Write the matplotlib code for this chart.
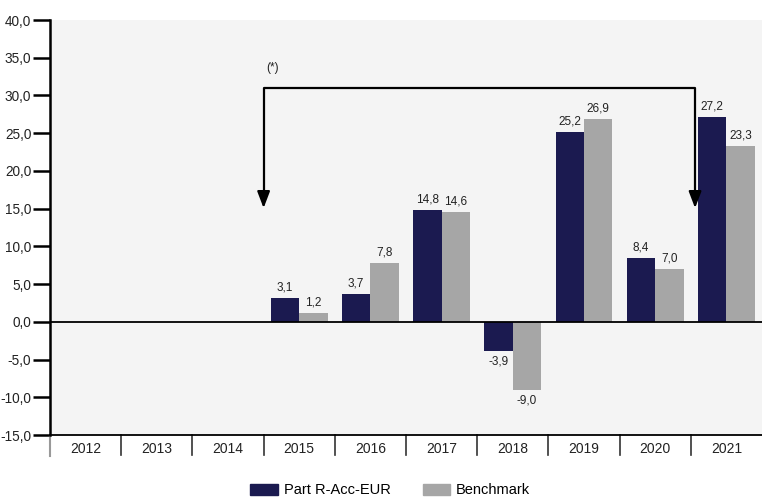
import matplotlib
matplotlib.use("Agg")
import matplotlib.pyplot as plt
from matplotlib.patches import Patch

years = ["2012", "2013", "2014", "2015", "2016", "2017", "2018", "2019", "2020", "2021"]
fund = [None, None, None, 3.1, 3.7, 14.8, -3.9, 25.2, 8.4, 27.2]
bench = [None, None, None, 1.2, 7.8, 14.6, -9.0, 26.9, 7.0, 23.3]
yticks = [-15, -10, -5, 0, 5, 10, 15, 20, 25, 30, 35, 40]

NAVY = "#1b1a50"
GREY = "#a6a6a6"
BG = "#f4f4f4"
narrow = ["Liberation Sans", "DejaVu Sans"]

fig = plt.figure(figsize=(7.62, 4.98), dpi=100)
ax = fig.add_axes([50 / 762, 1 - 435 / 498, 1 - 50 / 762, (435 - 20) / 498])
ax.set_facecolor(BG)

w = 0.4
for i, (f, b) in enumerate(zip(fund, bench)):
    for val, dx, col in [(f, -0.2, NAVY), (b, 0.2, GREY)]:
        if val is None:
            continue
        ax.bar(i + dx, val, width=w, color=col, zorder=2)
        off = 0.6 if val >= 0 else -0.6
        ax.text(i + dx, val + off, f"{val:.1f}".replace(".", ","), ha="center",
                va="bottom" if val >= 0 else "top", fontsize=8.5, family=narrow,
                color="#222222")

ax.axhline(0, color="black", lw=1.3, zorder=3)
ax.set_xlim(-0.5, 9.5)
ax.set_ylim(-15, 40)
ax.set_yticks(yticks)
ax.set_yticklabels([f"{v:.1f}".replace(".", ",") for v in yticks], family=narrow,
                   fontsize=9.8, color="#222222")
ax.tick_params(axis="y", length=12, width=1.8, direction="out", pad=1.5)
ax.set_xticks([])
for s in ["top", "right"]:
    ax.spines[s].set_visible(False)
ax.spines["left"].set_linewidth(1.8)
ax.spines["bottom"].set_linewidth(1.3)

# category band below the axis
trans = ax.get_xaxis_transform()
for i in range(len(years)):
    ax.text(i, -0.033, years[i], transform=trans, ha="center", va="center",
            family=narrow, fontsize=10, color="#222222")
ax.plot([-0.5, -0.5], [0, -0.05], transform=trans, color="#999999", lw=1.5, clip_on=False)
for i in range(1, len(years)):
    ax.plot([i - 0.5, i - 0.5], [0, -0.048], transform=trans, color="#333333", lw=1.2, clip_on=False)

# arrow bracket
ax.plot([2.5, 2.5, 8.56, 8.56], [16.5, 31.0, 31.0, 16.5], color="black", lw=1.6, zorder=4)
for xa in [2.5, 8.56]:
    ax.annotate("", xy=(xa, 14.7), xytext=(xa, 17.0),
                arrowprops=dict(arrowstyle="-|>,head_length=1.0,head_width=0.38", color="black", lw=1.6))
ax.text(2.62, 33.6, "(*)", ha="center", va="center", family=narrow,
        fontsize=8.5, color="#222222")

handles = [Patch(color=NAVY, label="Part R-Acc-EUR"), Patch(color=GREY, label="Benchmark")]
fig.legend(handles=handles, loc="lower center", bbox_to_anchor=(0.512, -0.025), ncol=2, frameon=False,
           prop={"family": "Liberation Sans", "size": 10.5}, handlelength=1.9, handleheight=0.75,
           columnspacing=2.2, handletextpad=0.4)

fig.savefig("out.png", dpi=100, facecolor="white")
